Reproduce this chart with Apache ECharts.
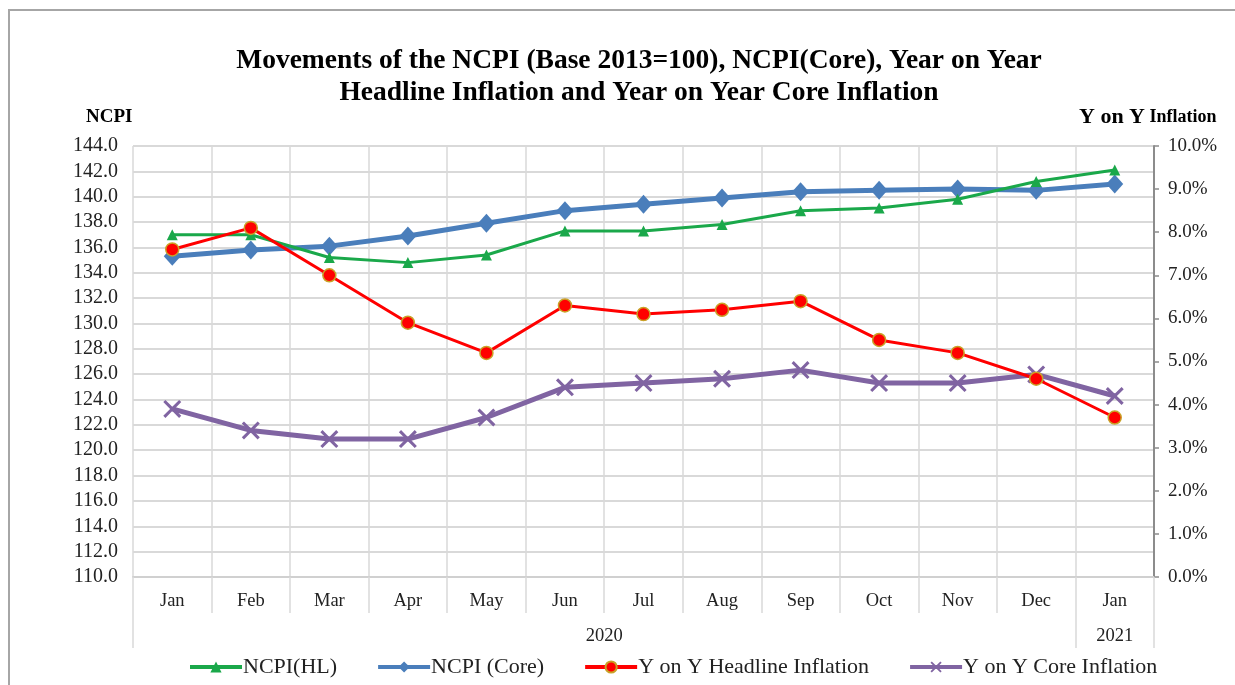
<!DOCTYPE html>
<html>
<head>
<meta charset="utf-8">
<script src="https://cdn.jsdelivr.net/npm/echarts@6/dist/echarts.min.js"></script>
<style>
html,body{margin:0;padding:0;background:#fff;}
#frame{position:absolute;left:8px;top:9px;width:1240px;height:690px;border-top:2px solid #a6a6a6;border-left:2px solid #a6a6a6;}
#chart{position:absolute;left:0;top:0;width:1235px;height:685px;}
</style>
</head>
<body>
<div id="frame"></div>
<div id="chart"></div>
<script>
const months = ['Jan','Feb','Mar','Apr','May','Jun','Jul','Aug','Sep','Oct','Nov','Dec','Jan'];
const years = ['2020','2021'];
const yearMonthCounts = [12, 1];
const ncpiHL = [137.0,137.0,135.2,134.8,135.4,137.3,137.3,137.8,138.9,139.1,139.8,141.2,142.1];
const ncpiCore = [135.3,135.8,136.1,136.9,137.9,138.9,139.4,139.9,140.4,140.5,140.6,140.5,141.0];
const yoyHeadline = [7.6,8.1,7.0,5.9,5.2,6.3,6.1,6.2,6.4,5.5,5.2,4.6,3.7];
const yoyCore = [3.9,3.4,3.2,3.2,3.7,4.4,4.5,4.6,4.8,4.5,4.5,4.7,4.2];
const leftTicks = {min:110, max:144, interval:2};
const rightTicks = {min:0, max:10, interval:1};

// year group boundaries and centres (in month units)
const yearBounds = [0];
const yearCenters = [];
yearMonthCounts.forEach((c,i)=>{ const s = yearBounds[yearBounds.length-1]; yearCenters.push(s + c/2); yearBounds.push(s + c); });

const FONT = '"Liberation Serif","Times New Roman",serif';
const xSymbol = 'path://M0,1.2L1.2,0L5,3.8L8.8,0L10,1.2L6.2,5L10,8.8L8.8,10L5,6.2L1.2,10L0,8.8L3.8,5Z';

const chart = echarts.init(document.getElementById('chart'), null, {renderer:'canvas'});
chart.setOption({
  animation:false,
  textStyle:{fontFamily:FONT},
  title:[
    {text:'Movements of the NCPI (Base 2013=100), NCPI(Core), Year on Year\nHeadline Inflation and Year on Year Core Inflation',
     left:634, top:40, textAlign:'center',
     textStyle:{fontFamily:FONT,fontWeight:'bold',fontSize:27.5,lineHeight:32,color:'#000'}},
    {text:'NCPI', left:81, top:103, textStyle:{fontFamily:FONT,fontWeight:'bold',fontSize:19,color:'#000'}},
    {text:'{a|Y on Y} {b|Inflation}', left:1074, top:101,
     textStyle:{rich:{a:{fontFamily:FONT,fontWeight:'bold',fontSize:22,color:'#000'},b:{fontFamily:FONT,fontWeight:'bold',fontSize:18,color:'#000'}}}}
  ],
  legend:{
    bottom:2, left:183, itemWidth:52, itemHeight:14, itemGap:39,
    lineStyle:{width:4},
    textStyle:{fontFamily:FONT,fontSize:22,color:'#222',padding:[0,0,0,-4]},
    data:['NCPI(HL)','NCPI (Core)','Y on Y Headline Inflation','Y on Y Core Inflation']
  },
  grid:{left:133, right:81, top:146, bottom:108},
  xAxis:[
    {type:'category', data:months, boundaryGap:true, position:'bottom',
     axisLine:{show:true,lineStyle:{color:'#d0d0d0',width:2}},
     axisTick:{show:true,length:36,lineStyle:{color:'#d9d9d9',width:1.5}},
     axisLabel:{fontFamily:FONT,fontSize:18.5,color:'#222',margin:15},
     splitLine:{show:true,lineStyle:{color:'#d9d9d9',width:1.5}}},
    {type:'value', min:0, max:yearBounds[yearBounds.length-1], position:'bottom',
     axisLine:{show:false},
     axisTick:{show:true,length:71,customValues:yearBounds,lineStyle:{color:'#d9d9d9',width:1.5}},
     axisLabel:{show:true,customValues:yearCenters,fontFamily:FONT,fontSize:18.5,color:'#222',margin:50,
       formatter:function(v){ const i = yearCenters.indexOf(v); return i>=0 ? years[i] : ''; }},
     splitLine:{show:false}}
  ],
  yAxis:[
    {type:'value', min:leftTicks.min, max:leftTicks.max, interval:leftTicks.interval, position:'left',
     axisLine:{show:false}, axisTick:{show:false},
     axisLabel:{fontFamily:FONT,fontSize:20,color:'#222',margin:15,formatter:v=>v.toFixed(1)},
     splitLine:{show:true,lineStyle:{color:'#d9d9d9',width:2}}},
    {type:'value', min:rightTicks.min, max:rightTicks.max, interval:rightTicks.interval, position:'right',
     axisLine:{show:true,lineStyle:{color:'#8c8c8c',width:2}},
     axisTick:{show:true,length:5,inside:false,lineStyle:{color:'#8c8c8c',width:1.5}},
     axisLabel:{fontFamily:FONT,fontSize:19,color:'#222',margin:14,formatter:v=>v.toFixed(1)+'%'},
     splitLine:{show:false}}
  ],
  series:[
    {name:'NCPI(HL)', type:'line', xAxisIndex:0, yAxisIndex:0, data:ncpiHL,
     symbol:'triangle', symbolSize:11,
     lineStyle:{color:'#1aa84a',width:3}, itemStyle:{color:'#1aa84a'}, z:3},
    {name:'NCPI (Core)', type:'line', xAxisIndex:0, yAxisIndex:0, data:ncpiCore,
     symbol:'diamond', symbolSize:[17,19],
     lineStyle:{color:'#4a7ebb',width:5}, itemStyle:{color:'#4a7ebb'}, z:2},
    {name:'Y on Y Headline Inflation', type:'line', xAxisIndex:0, yAxisIndex:1, data:yoyHeadline,
     symbol:'circle', symbolSize:13,
     lineStyle:{color:'#ff0000',width:3}, itemStyle:{color:'#ff0000',borderColor:'#c9a227',borderWidth:1.5}, z:4},
    {name:'Y on Y Core Inflation', type:'line', xAxisIndex:0, yAxisIndex:1, data:yoyCore,
     symbol:xSymbol, symbolSize:18,
     lineStyle:{color:'#8064a2',width:5}, itemStyle:{color:'#8064a2'}, z:3}
  ]
});
</script>
</body>
</html>
